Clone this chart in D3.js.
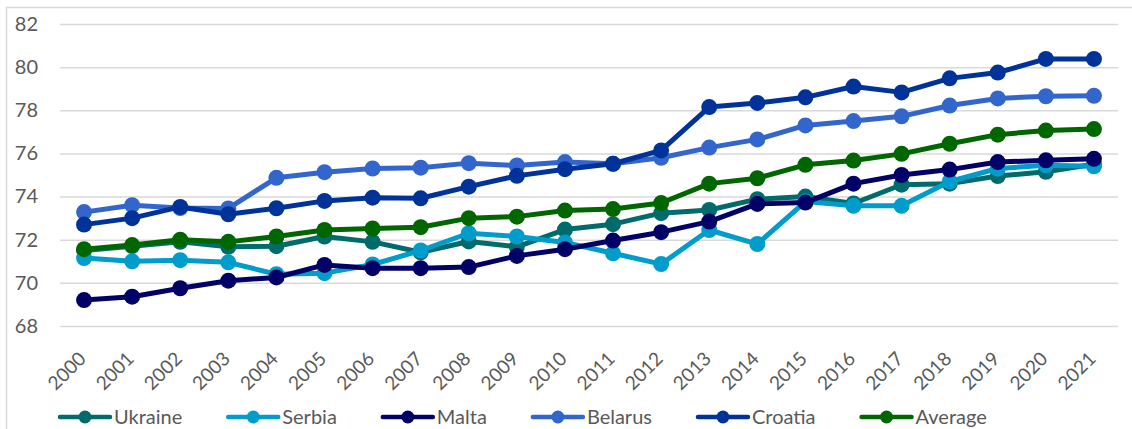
<!DOCTYPE html>
<html>
<head>
<meta charset="utf-8">
<script src="https://cdn.jsdelivr.net/npm/d3@7"></script>
<style>
  body { margin: 0; background: #fff; }
  text { font-family: Lato, "Open Sans", sans-serif; fill: #595959; }
</style>
</head>
<body>
<div id="chart"></div>
<script>
const years = ['2000','2001','2002','2003','2004','2005','2006','2007','2008','2009','2010',
  '2011','2012','2013','2014','2015','2016','2017','2018','2019','2020','2021'];
const yTicks = [68, 70, 72, 74, 76, 78, 80, 82];

const ukraine = [71.5, 71.7, 71.9, 71.67, 71.7, 72.15, 71.9, 71.42, 71.92, 71.67, 72.47,
  72.72, 73.23, 73.38, 73.88, 74.0, 73.68, 74.55, 74.6, 74.95, 75.15, 75.5];
const serbia = [71.15, 71.0, 71.05, 70.95, 70.4, 70.45, 70.85, 71.5, 72.3, 72.15, 71.87,
  71.37, 70.87, 72.45, 71.8, 73.77, 73.57, 73.57, 74.7, 75.3, 75.45, 75.4];
const malta = [69.2, 69.36, 69.75, 70.1, 70.25, 70.83, 70.68, 70.68, 70.73, 71.25, 71.56,
  71.96, 72.35, 72.84, 73.66, 73.72, 74.6, 75.0, 75.25, 75.6, 75.68, 75.75];
const belarus = [73.28, 73.6, 73.47, 73.45, 74.87, 75.13, 75.3, 75.34, 75.55, 75.44, 75.6,
  75.52, 75.8, 76.27, 76.65, 77.3, 77.5, 77.72, 78.22, 78.55, 78.65, 78.67];
const croatia = [72.7, 73.0, 73.52, 73.18, 73.46, 73.8, 73.95, 73.92, 74.46, 74.96, 75.27,
  75.52, 76.14, 78.15, 78.34, 78.6, 79.1, 78.83, 79.48, 79.75, 80.38, 80.38];
const average = [71.56, 71.75, 72.0, 71.9, 72.15, 72.45, 72.52, 72.58, 73.0, 73.07, 73.35,
  73.42, 73.7, 74.6, 74.85, 75.47, 75.67, 75.98, 76.45, 76.87, 77.06, 77.13];

const seriesNames = ['Ukraine', 'Serbia', 'Malta', 'Belarus', 'Croatia', 'Average'];
const seriesValues = [ukraine, serbia, malta, belarus, croatia, average];
const seriesColors = ['#006b6b', '#009ccc', '#000066', '#3366cc', '#003399', '#006600'];

const width = 1132;
const height = 429;

const svg = d3.select('#chart')
    .append('svg')
    .attr('width', width)
    .attr('height', height);

svg.append('rect')
    .attr('x', 6.5)
    .attr('y', 7.5)
    .attr('width', 1140)
    .attr('height', 440)
    .attr('fill', 'none')
    .attr('stroke', '#d9d9d9')
    .attr('stroke-width', 1.5);

const xScale = d3.scaleBand()
    .domain(years)
    .range([60, 1118])
    .padding(0);

const yScale = d3.scaleLinear()
    .domain([68, 82])
    .range([326, 24]);

const xc = d => xScale(d) + xScale.bandwidth() / 2;

// gridlines + y labels
const yAxis = svg.append('g')
    .attr('transform', 'translate(60,0)')
    .call(d3.axisLeft(yScale).tickValues(yTicks).tickSize(-1058).tickPadding(22).tickFormat(d3.format('d')));
yAxis.select('.domain').remove();
yAxis.selectAll('line').attr('stroke', '#d9d9d9').attr('stroke-width', 1.5);
yAxis.selectAll('text').attr('font-size', 20).attr('fill', '#595959')
    .style('font-family', 'Lato, sans-serif');

// x labels
const xAxis = svg.append('g')
    .attr('transform', 'translate(0,326)')
    .call(d3.axisBottom(xScale).tickSize(0).tickPadding(0));
xAxis.select('.domain').remove();
xAxis.selectAll('text')
    .attr('font-size', 19)
    .attr('fill', '#595959')
    .style('font-family', 'Lato, sans-serif')
    .attr('text-anchor', 'end')
    .attr('dy', 0)
    .attr('y', 0)
    .attr('transform', 'translate(3,34) rotate(-45)');

const line = d3.line()
    .x((d, i) => xc(years[i]))
    .y(d => yScale(d));

seriesValues.forEach((vals, s) => {
    const g = svg.append('g');
    g.append('path')
        .datum(vals)
        .attr('d', line)
        .attr('fill', 'none')
        .attr('stroke', seriesColors[s])
        .attr('stroke-width', 5)
        .attr('stroke-linejoin', 'round');
    g.selectAll('circle')
        .data(vals)
        .enter()
        .append('circle')
        .attr('cx', (d, i) => xc(years[i]))
        .attr('cy', d => yScale(d))
        .attr('r', 8)
        .attr('fill', seriesColors[s]);
});

// legend
const legend = svg.append('g').attr('transform', 'translate(0,417)');
let lx = 60;
seriesNames.forEach((name, s) => {
    const item = legend.append('g').attr('transform', `translate(${lx},0)`);
    item.append('line')
        .attr('x1', 0).attr('x2', 50)
        .attr('y1', 0).attr('y2', 0)
        .attr('stroke', seriesColors[s])
        .attr('stroke-width', 4.5)
        .attr('stroke-linecap', 'round');
    item.append('circle')
        .attr('cx', 25).attr('cy', 0).attr('r', 6.5)
        .attr('fill', seriesColors[s]);
    const t = item.append('text')
        .attr('x', 54)
        .attr('y', 7)
        .attr('font-size', 20)
        .text(name);
    lx += 54 + t.node().getComputedTextLength() + 46;
});
</script>
</body>
</html>
